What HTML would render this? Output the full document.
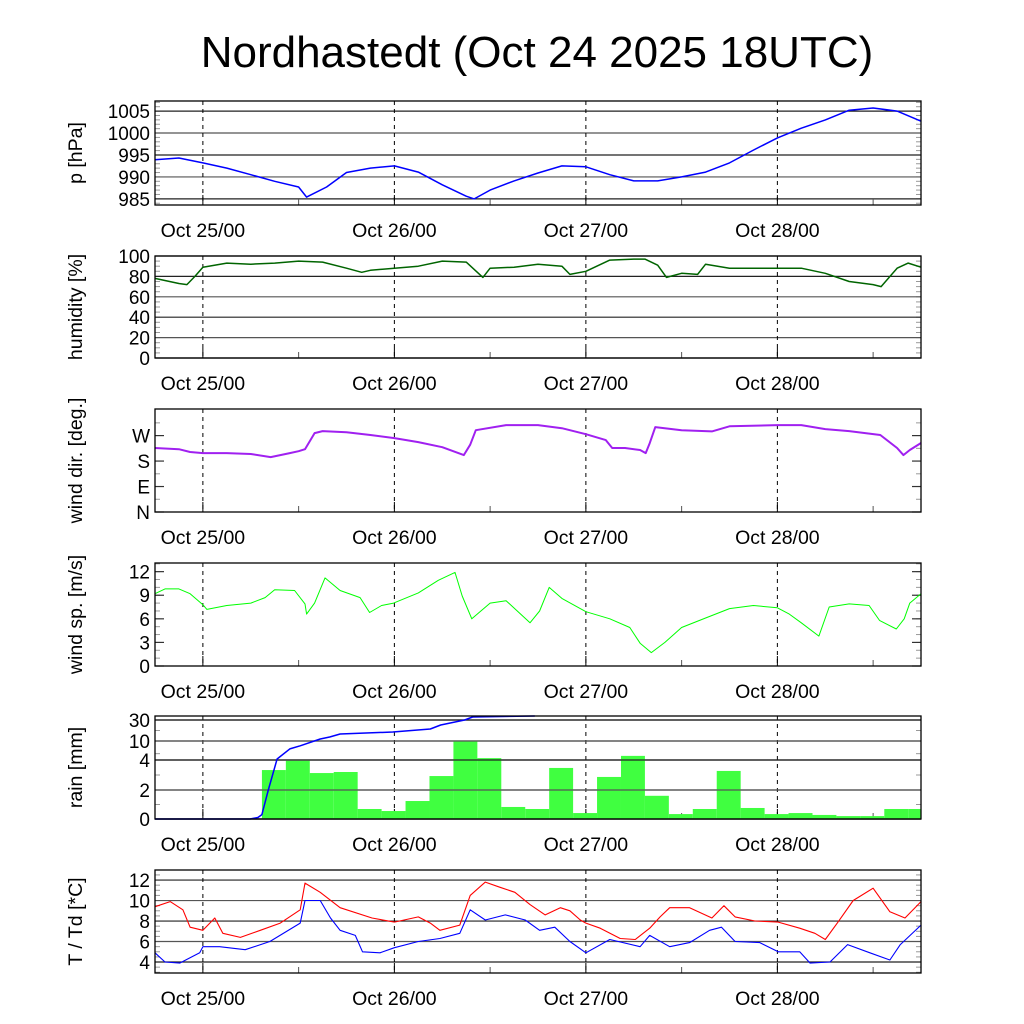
<!DOCTYPE html>
<html><head><meta charset="utf-8"><style>
html,body{margin:0;padding:0;background:#fff;}
svg{display:block;font-family:"Liberation Sans",Arial,sans-serif;}
</style></head><body>
<svg id="chart" width="1024" height="1024" viewBox="0 0 1024 1024">
<text x="537" y="67" font-size="44" text-anchor="middle" fill="#000">Nordhastedt (Oct 24 2025 18UTC)</text>
</svg>
<script>
// ---- data (hours since Oct 24 18UTC) ----
const dayHours = [6, 30, 54, 78];
const dayLabels = ["Oct 25/00", "Oct 26/00", "Oct 27/00", "Oct 28/00"];
const halfDayHours = [18, 42, 66, 90];

const presTimes = [0,3,6,9,12,15,18,19,21.5,24,27,30,33,36,39,40,42,45,48,51,54,57,60,63,66,69,72,75,78,81,84,87,90,93,96];
const presValues = [993.9,994.3,993.2,992.0,990.5,989.0,987.7,985.4,987.7,991.0,992.0,992.5,991.1,988.2,985.6,985.0,987.0,989.1,990.9,992.5,992.3,990.5,989.1,989.1,990.0,991.1,993.2,996.1,998.9,1001.1,1003.0,1005.2,1005.7,1005.0,1002.7];

const humTimes = [0,3,4,5,6,9,12,15,18,21,24,25.9,27,30,33,36,39,41.1,42,45,48,51,52,54,57,60,61.4,63,64.1,66,68,69,72,75,78,81,84,87,90,91,93,94.4,96];
const humValues = [78,73,72,80,89,93,92,93,95,94,88,84,86,88,90,95,94,79,88,89,92,90,82,85,96,97,97,91,79,83,82,92,88,88,88,88,83,75,72,70,88,93,89];

const dirTimes = [0,3,4.4,6,9,12,14.5,16.9,18,18.8,20,21,24,27,30,33,36,38.7,39.5,40.2,44,48,51,54,56.5,57.3,58.9,60.8,61.5,62,62.7,66,69.8,72,78,81,84,87,90.9,93,93.8,94.6,96];
const dirValues = [226,222,212,208,208,205,194,208,215,222,279,286,282,272,261,247,229,201,238,289,307,307,296,275,254,226,226,219,208,243,300,289,285,303,307,307,293,286,272,226,201,219,244];

const spdTimes = [0,1.25,3,4.4,6,6.5,9,12,13.8,15,17.5,18.8,19,20,21.3,23.2,25.7,26.9,28.4,29.9,33,35.5,37.6,38.5,39.7,42,44,47,48.2,49.4,51,54,57,59.5,60.8,62.2,63.9,66,69,72,75,78,79.5,81,83.2,84.5,87,89.5,90.8,92.9,93.9,94.6,96];
const spdValues = [9.2,9.8,9.8,9.2,7.8,7.2,7.7,8.0,8.7,9.7,9.6,7.9,6.6,8.0,11.2,9.6,8.7,6.8,7.7,8.0,9.3,10.9,11.9,8.9,6.0,8.0,8.3,5.5,7.0,10.0,8.6,6.9,6.0,4.9,2.9,1.7,3.0,4.9,6.1,7.3,7.7,7.4,6.6,5.5,3.8,7.5,7.9,7.7,5.8,4.7,6.0,8.0,9.2];

const rainBarStart = 13.4;
const rainBarHours = 3;
const rainBarValues = [3.33,3.95,3.13,3.2,0.69,0.55,1.24,2.93,10.3,4.6,0.83,0.69,3.47,0.41,2.87,5.3,1.6,0.34,0.69,3.27,0.76,0.34,0.41,0.28,0.2,0.2,0.69,0.69];
const rainCumTimes = [0,11.9,12.9,13.4,14.2,15.3,16.9,18.2,20.7,21.9,23.2,29.8,34.5,35.8,38.8,39.8,47.6];
const rainCumValues = [0,0,0.1,0.3,2.0,4.3,7.5,8.5,11.9,13.8,16.7,18.6,21.4,25.2,30,32.9,33.8];

const tTimes = [0,1.9,3.5,4.4,6,7.5,8.5,10.7,13.2,15.7,18.2,18.8,20.7,23.2,27.2,30,33,34.5,35.7,38.2,39.5,41.4,43.2,45.1,47,48.9,50.8,52,53.3,54,55.8,58.3,60.2,62,63.3,64.5,67,69.8,71.3,72.7,75.2,78.1,80.8,82.7,84,85.6,87.5,90,92.1,94,96];
const tValues = [9.4,9.9,9.1,7.4,7.1,8.3,6.8,6.4,7.1,7.8,9.1,11.7,10.8,9.3,8.3,7.9,8.4,7.8,7.1,7.6,10.5,11.8,11.3,10.8,9.6,8.6,9.3,9.0,8.1,7.8,7.3,6.3,6.2,7.3,8.4,9.3,9.3,8.3,9.5,8.4,8.0,7.9,7.3,6.8,6.2,7.9,10.0,11.2,8.9,8.3,9.9];
const tdTimes = [0,1.25,3.1,5.6,6,8.1,11.3,14.4,18.2,18.8,20.7,22,23.2,25.1,26,28.2,30,33,35.7,38.2,39.5,41.4,43.9,46.4,48.2,50.1,52,54,57,60.8,62,64.5,67,69.5,71,72.7,75.8,78.1,80.8,82.1,84.6,86.8,89.6,92.1,93.4,96];
const tdValues = [4.9,4.0,3.9,4.9,5.5,5.5,5.2,6.0,7.8,10.0,10.0,8.3,7.1,6.6,5.0,4.9,5.4,6.0,6.3,6.8,9.1,8.1,8.6,8.1,7.1,7.4,6.0,4.9,6.2,5.5,6.6,5.5,5.9,7.1,7.4,6.0,5.9,5.0,5.0,3.9,4.0,5.7,4.9,4.2,5.7,7.6];

const presTicks = [985,990,995,1000,1005];
const humTicks = [0,20,40,60,80,100];
const dirTicks = [0,90,180,270];
const dirTickLabels = ["N","E","S","W"];
const spdTicks = [0,3,6,9,12];
const rainTicks = [0,2,4,10,30];
const tTicks = [4,6,8,10,12];

// ---- layout ----
const X0 = 155, X1 = 921, HMAX = 96;
const NS = "http://www.w3.org/2000/svg";
const svg = document.getElementById('chart');
function xs(h){ return X0 + (X1 - X0) * h / HMAX; }
function mk(tag, attrs, parent){
  const e = document.createElementNS(NS, tag);
  for (const k in attrs) e.setAttribute(k, attrs[k]);
  (parent || svg).appendChild(e);
  return e;
}
function linScale(top, bottom, lo, hi){ return v => bottom - (v - lo) / (hi - lo) * (bottom - top); }
const rainPx = [819, 790, 760, 741, 720];
function rainScale(v){
  if (v <= rainTicks[0]) return rainPx[0];
  for (let i = 1; i < rainTicks.length; i++){
    if (v <= rainTicks[i]){
      const f = (v - rainTicks[i-1]) / (rainTicks[i] - rainTicks[i-1]);
      return rainPx[i-1] + f * (rainPx[i] - rainPx[i-1]);
    }
  }
  const s = (rainPx[4] - rainPx[3]) / (rainTicks[4] - rainTicks[3]);
  return Math.max(716, rainPx[4] + (v - rainTicks[4]) * s);
}

function panel(cfg){
  const g = mk('g', {});
  
  
  const top = cfg.top, bot = cfg.bottom, ys = cfg.scale;
  (cfg.minor || []).forEach(v => {
    const y = ys(v);
    const l = mk('line', {x1: X0, x2: X0 + 5, y1: y, y2: y, stroke: '#999', 'stroke-width': 1}, g);
    
    
    const r = mk('line', {x1: X1 - 5, x2: X1, y1: y, y2: y, stroke: '#999', 'stroke-width': 1}, g);
    
    
  });
  cfg.ticks.forEach((v, i) => {
    const y = ys(v);
    if (cfg.grid){
      const gl = mk('line', {x1: X0, x2: X1, y1: y, y2: y, stroke: i % 2 ? '#555' : '#222', 'stroke-width': 1.2}, g);
      
      
    } else {
      const t1 = mk('line', {x1: X0, x2: X0 + 9, y1: y, y2: y, stroke: '#333', 'stroke-width': 1.2}, g);
      
      
      const t2 = mk('line', {x1: X1 - 9, x2: X1, y1: y, y2: y, stroke: '#333', 'stroke-width': 1.2}, g);
      
      
    }
    const tx = mk('text', {x: 150, y: y + 7, 'font-size': 19, 'text-anchor': 'end', fill: '#000'}, g);
    tx.textContent = cfg.labels ? cfg.labels[i] : String(v);
    
    
  });
  dayHours.forEach((h, i) => {
    const x = xs(h);
    const dl = mk('line', {x1: x, x2: x, y1: top, y2: bot, stroke: '#000', 'stroke-width': 1, 'stroke-dasharray': '4,4'}, g);
    
    
    const dt = mk('line', {x1: x, x2: x, y1: bot - 10, y2: bot, stroke: '#000', 'stroke-width': 1}, g);
    
    
    const lb = mk('text', {x: x, y: bot + 32, 'font-size': 19.5, 'text-anchor': 'middle', fill: '#000'}, g);
    lb.textContent = dayLabels[i];
    
    
  });
  halfDayHours.forEach(h => {
    const x = xs(h);
    const ht = mk('line', {x1: x, x2: x, y1: bot - 6, y2: bot, stroke: '#555', 'stroke-width': 1}, g);
    
    
  });
  const cy = (top + bot) / 2;
  const yt = mk('text', {x: 0, y: 0, 'font-size': 19.5, 'text-anchor': 'middle', fill: '#000', transform: `translate(82,${cy}) rotate(-90)`}, g);
  yt.textContent = cfg.title;
  
  
  return g;
}
function border(cfg){
  const b = mk('rect', {x: X0, y: cfg.top, width: X1 - X0, height: cfg.bottom - cfg.top, fill: 'none', stroke: '#000', 'stroke-width': 1.3});
  
  
}
function series(times, vals, ys, color, w, name){
  const d = times.map((t, i) => (i ? 'L' : 'M') + xs(t).toFixed(1) + ',' + ys(vals[i]).toFixed(1)).join('');
  const p = mk('path', {d: d, fill: 'none', stroke: color, 'stroke-width': w, 'stroke-linejoin': 'round'});
  
  
}
function range(a, b, s){ const r = []; for (let v = a; v <= b + 1e-9; v += s) r.push(+v.toFixed(3)); return r; }

const pCfg = {name: 'pressure', top: 101, bottom: 205, scale: linScale(101, 205, 983.6, 1007.3), ticks: presTicks, grid: true, title: 'p [hPa]', minor: range(984, 1007, 1)};
panel(pCfg); series(presTimes, presValues, pCfg.scale, '#0000ff', 1.5, 'pressure-line'); border(pCfg);
const hCfg = {name: 'humidity', top: 256, bottom: 358, scale: linScale(256, 358, 0, 100), ticks: humTicks, grid: true, title: 'humidity [%]', minor: range(0, 100, 5)};
panel(hCfg); series(humTimes, humValues, hCfg.scale, '#006400', 1.5, 'humidity-line'); border(hCfg);
const dCfg = {name: 'wind-direction', top: 409, bottom: 512, scale: linScale(409, 512, 0, 364), ticks: dirTicks, labels: dirTickLabels, grid: false, title: 'wind dir. [deg.]', minor: range(45, 360, 90)};
panel(dCfg); series(dirTimes, dirValues, dCfg.scale, '#a020f0', 2, 'wind-direction-line'); border(dCfg);
const sCfg = {name: 'wind-speed', top: 563, bottom: 666, scale: linScale(563, 666, 0, 13.1), ticks: spdTicks, grid: false, title: 'wind sp. [m/s]', minor: range(1, 13, 1)};
panel(sCfg); series(spdTimes, spdValues, sCfg.scale, '#00ff00', 1, 'wind-speed-line'); border(sCfg);
const rCfg = {name: 'rain', top: 716, bottom: 819, scale: rainScale, ticks: rainTicks, grid: true, title: 'rain [mm]', minor: [1, 3, 6, 20]};
panel(rCfg);
rainBarValues.forEach((v, i) => {
  const h0 = rainBarStart + i * rainBarHours;
  const h1 = Math.min(HMAX, h0 + rainBarHours);
  if (h0 >= HMAX) return;
  const y = rainScale(v);
  const b = mk('rect', {x: xs(h0), y: y, width: xs(h1) - xs(h0), height: 819 - y, fill: '#40ff40'});
  
  
});
rainTicks.forEach((v, i) => {
  const y = rainScale(v);
  const gl = mk('line', {x1: X0, x2: X1, y1: y, y2: y, stroke: i % 2 ? '#555' : '#222', 'stroke-width': 1.2});
  
  
});
series(rainCumTimes, rainCumValues, rainScale, '#0000ff', 1.5, 'cumulative-rain-line'); border(rCfg);
const tCfg = {name: 'temperature', top: 870, bottom: 973, scale: linScale(870, 973, 2.93, 12.98), ticks: tTicks, grid: true, title: 'T / Td [*C]', minor: range(3, 12.5, 0.5)};
panel(tCfg);
series(tTimes, tValues, tCfg.scale, '#ff0000', 1.1, 'temperature-line');
series(tdTimes, tdValues, tCfg.scale, '#0000ff', 1.1, 'dewpoint-line');
border(tCfg);
</script>
</body></html>
